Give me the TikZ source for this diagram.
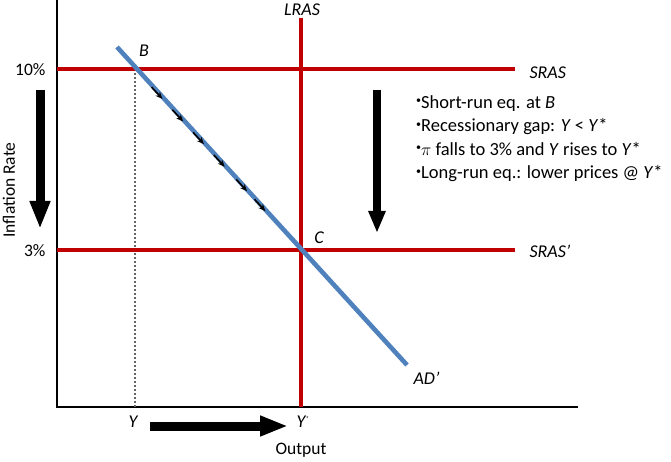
\documentclass[tikz,border=0pt]{standalone}
\usepackage{fontspec}
\setmainfont{Carlito}
\usepackage{tikz}
\usetikzlibrary{arrows.meta,calc,positioning}
\definecolor{curvered}{RGB}{192,0,0}
\definecolor{curveblue}{RGB}{79,129,189}
\newcommand{\bul}{{\fontsize{10}{10}\selectfont\raisebox{0.9ex}{\textbullet}}}

\begin{document}
\begin{tikzpicture}[x=1pt,y=-1pt,>=Stealth,font=\fontsize{17.5}{20}\selectfont,
    axisline/.style={line width=2.4pt,black},
    redline/.style={line width=3.6pt,curvered},
    blueline/.style={line width=4.6pt,curveblue},
    bigarrow/.style={line width=9pt,-{Triangle[width=19pt,length=28pt]}},
    smallarrow/.style={line width=1.6pt,-{Stealth[length=7pt,width=6pt]}},
    lbl/.style={font=\fontsize{18}{20}\selectfont\itshape}]

  \useasboundingbox (0,0) rectangle (671,462);

  %-------------------- Osie --------------------
  \coordinate (O) at (57,407);
  \coordinate (ytop) at (57,0);
  \coordinate (xend) at (578,407);
  \draw[axisline] (ytop) -- (O) -- (xend);

  \node[rotate=90] (ylab) at (9,190) {Inflation Rate};
  \node (xlab) at (301,450) {Output};
  \node[anchor=east] (p10) at (49,70) {10\%};
  \node[anchor=east] (p3) at (49,251) {3\%};

  %-------------------- Krzywe --------------------
  \coordinate (lrastop) at (301,18);
  \coordinate (lrasbot) at (301,407);
  \coordinate (s1a) at (57,69);
  \coordinate (s1b) at (515,69);
  \coordinate (s2a) at (57,250);
  \coordinate (s2b) at (515,250);
  \coordinate (adtop) at (117,47);
  \coordinate (adbot) at (407,365);
  \coordinate (B) at (135,69);
  \coordinate (C) at (301,250);

  \draw[gray!80!black,line width=1.1pt,dash pattern=on 2pt off 2pt] (B) -- (B |- O);
  \draw[redline] (lrastop) -- (lrasbot);
  \draw[redline] (s1a) -- (s1b);
  \draw[redline] (s2a) -- (s2b);
  \draw[blueline] (adtop) -- (adbot);

  % Strzałki wzdłuż AD
  \foreach \t in {0.10,0.225,0.35,0.475,0.61,0.72}{
    \draw[smallarrow] ($(B)!\t!(C)$) -- ($(B)!\t+0.065!(C)$);
  }

  % Opisy krzywych
  \node[lbl] (lras) at (302,10) {LRAS};
  \node[lbl,anchor=west] (sras) at (526,73) {SRAS};
  \node[lbl,anchor=west] (sras2) at (526,251) {SRAS’};
  \node[lbl,anchor=west] (ad) at (410,378) {AD’};
  \node[lbl] (blab) at (144,51) {B};
  \node[lbl] (clab) at (319,238) {C};
  \node[lbl] (ylow) at (133,422) {Y};
  \node[lbl] (ystar) at (303,422) {Y\textsuperscript{\fontsize{7}{7}\selectfont*}};

  %-------------------- Strzałki dostosowania --------------------
  \coordinate (la1) at (40,90);
  \coordinate (la2) at (40,229);
  \draw[bigarrow] (la1) -- (la2);
  \coordinate (ma1) at (377,90);
  \coordinate (ma2) at (377,233);
  \draw[line width=8pt,-{Triangle[width=16pt,length=22pt]}] (ma1) -- (ma2);
  \coordinate (ba1) at (150,426);
  \coordinate (ba2) at (288,426);
  \draw[bigarrow] (ba1) -- (ba2);

  %-------------------- Komentarz --------------------
  \node[anchor=north west,align=left,inner sep=0pt,
        font=\fontsize{18.5}{23.5}\selectfont] (notes) at (416,95)
    {\bul Short-run eq. at \textit{B}\\
     \bul Recessionary gap: \textit{Y} < \textit{Y}*\\
     \bul$\pi$ falls to 3\% and \textit{Y} rises to \textit{Y}*\\
     \bul Long-run eq.: lower prices @ \textit{Y}*};

\end{tikzpicture}
\end{document}
